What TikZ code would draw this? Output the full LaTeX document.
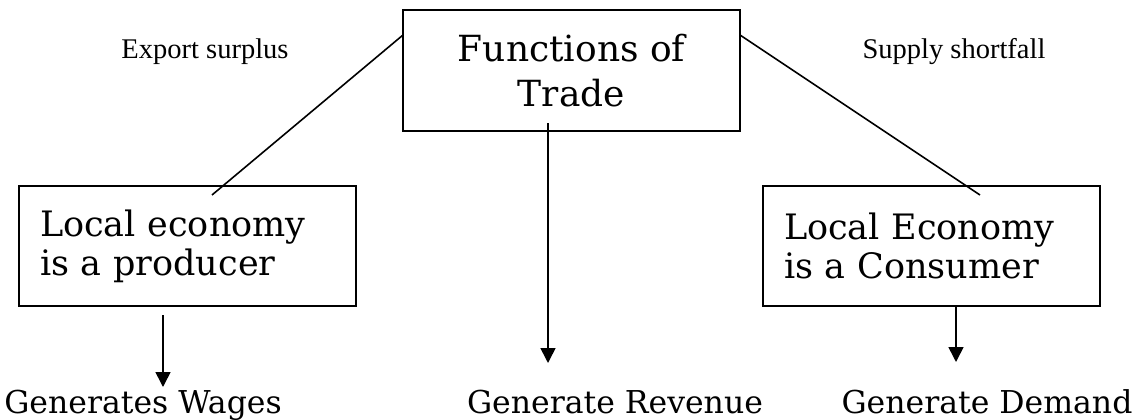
\documentclass[tikz,border=0pt]{standalone}
\usepackage{fontspec}
\setmainfont{DejaVu Serif}
\newfontfamily\lblfont{Liberation Serif}
\usetikzlibrary{arrows.meta}
\begin{document}
\begin{tikzpicture}[x=1pt,y=-1pt,
  box/.style={draw, line width=2pt, minimum width=337pt, minimum height=120pt,
    inner sep=0pt, font=\fontsize{35}{39}\selectfont},
  leftbox/.style={box, text width=295pt, align=left},
  result/.style={anchor=base, inner sep=0pt, font=\fontsize{31.5}{36}\selectfont},
  lbl/.style={anchor=base, inner sep=0pt, font=\lblfont\fontsize{28.5}{32}\selectfont},
  conn/.style={line width=1.6pt},
  arr/.style={line width=1.6pt, -{Triangle[width=15pt,length=15pt]}}]
\useasboundingbox (0,0) rectangle (1141,420);
\fill[white] (0,0) rectangle (1141,420);

\node[box, align=center, font=\fontsize{36}{45}\selectfont] (top) at (571.5,70.5) {Functions of\\Trade};
\node[leftbox] (prod) at (187.5,246) {Local economy\\is a producer};
\node[leftbox] (cons) at (931.5,246) {Local Economy\\is a Consumer};

\node[lbl] (exp) at (205,59) {Export surplus};
\node[lbl] (sup) at (954,59) {Supply shortfall};

\node[result] (wages) at (143,413) {Generates Wages};
\node[result] (rev) at (615,413) {Generate Revenue};
\node[result] (dem) at (987,413) {Generate Demand};

\coordinate (tl) at (403,35);
\coordinate (tr) at (740,35);
\coordinate (pl) at (212,195);
\coordinate (cr) at (980,195);
\draw[conn] (pl) -- (tl);
\draw[conn] (tr) -- (cr);

\coordinate (ts) at (548,123);
\coordinate (te) at (548,363);
\draw[arr] (ts) -- (te);
\coordinate (ps) at (163,315);
\coordinate (pe) at (163,387);
\draw[arr] (ps) -- (pe);
\coordinate (cs) at (956,307);
\coordinate (ce) at (956,362);
\draw[arr] (cs) -- (ce);
\end{tikzpicture}
\end{document}
